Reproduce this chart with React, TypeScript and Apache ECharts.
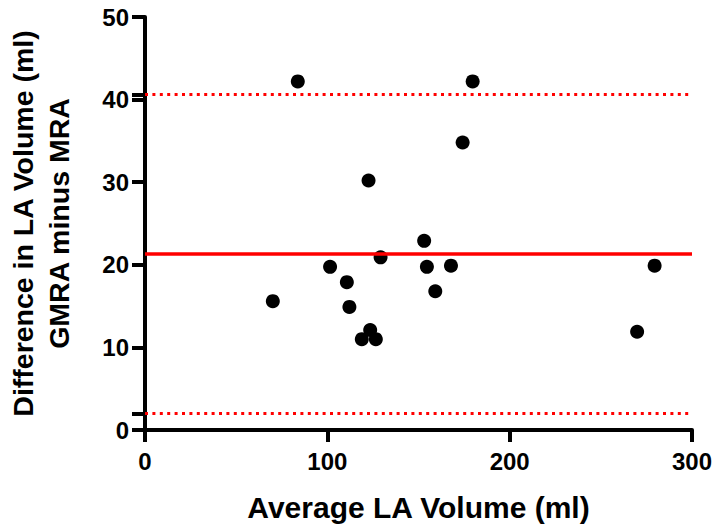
import React, { useEffect, useRef } from "react";
import * as echarts from "echarts";

const averageVolume = [83.8, 179.7, 174.2, 122.6, 153.1, 129.2, 101.5, 110.7, 112.1, 70.1, 154.6, 167.8, 159.2, 279.5, 269.9, 123.5, 118.9, 126.6];
const volumeDifference = [42.2, 42.2, 34.8, 30.2, 22.9, 20.9, 19.75, 17.9, 14.9, 15.6, 19.75, 19.9, 16.8, 19.9, 11.9, 12.1, 11.0, 11.0];
const meanDifference = 21.3;
const upperLimit = 40.6;
const lowerLimit = 2.0;
const xTicks = [0, 100, 200, 300];
const yTicks = [0, 10, 20, 30, 40, 50];

const FONT = "'Liberation Sans', Arial, sans-serif";

export default function App() {
  const ref = useRef<HTMLDivElement>(null);
  useEffect(() => {
    if (!ref.current) return;
    const chart = echarts.init(ref.current, null, { renderer: "svg" });
    const points = averageVolume.map((x, i) => [x, volumeDifference[i]]);
    chart.setOption({
      animation: false,
      backgroundColor: "#ffffff",
      grid: { left: 145, right: 23, top: 17, bottom: 94, containLabel: false, outerBoundsMode: "none" },
      xAxis: {
        type: "value",
        min: xTicks[0],
        max: xTicks[xTicks.length - 1],
        interval: 100,
        name: "Average LA Volume (ml)",
        nameLocation: "middle",
        nameGap: 62,
        nameTextStyle: { fontFamily: FONT, fontWeight: "bold", fontSize: 30, color: "#000" },
        axisLine: { show: true, lineStyle: { color: "#000", width: 4 } },
        axisTick: { show: true, length: 12, lineStyle: { color: "#000", width: 4 } },
        axisLabel: { fontFamily: FONT, fontWeight: "bold", fontSize: 24, color: "#000", margin: 19 },
        splitLine: { show: false },
      },
      yAxis: {
        type: "value",
        min: yTicks[0],
        max: yTicks[yTicks.length - 1],
        interval: 10,
        name: "Difference in LA Volume (ml)\nGMRA minus MRA",
        nameLocation: "middle",
        nameGap: 68,
        nameTextStyle: { fontFamily: FONT, fontWeight: "bold", fontSize: 28.5, color: "#000", lineHeight: 36 },
        axisLine: { show: true, onZero: false, lineStyle: { color: "#000", width: 4 } },
        axisTick: {
          show: true,
          length: 13,
          lineStyle: { color: "#000", width: 4 },
          customValues: [...yTicks, lowerLimit, upperLimit],
        },
        axisLabel: { fontFamily: FONT, fontWeight: "bold", fontSize: 24, color: "#000", margin: 16, customValues: yTicks },
        splitLine: { show: false },
      },
      series: [
        {
          type: "scatter",
          data: points,
          symbol: "circle",
          symbolSize: 14,
          itemStyle: { color: "#000", opacity: 1 },
          z: 3,
          markLine: {
            silent: true,
            symbol: "none",
            label: { show: false },
            data: [
              { yAxis: meanDifference, lineStyle: { color: "#ff0000", width: 3.5, type: "solid", opacity: 1 } },
              { yAxis: upperLimit, lineStyle: { color: "#ff0000", width: 3, type: [3, 4.4], opacity: 1 } },
              { yAxis: lowerLimit, lineStyle: { color: "#ff0000", width: 3, type: [3, 4.4], opacity: 1 } },
            ],
          },
        },
      ],
    });
    return () => chart.dispose();
  }, []);
  return <div ref={ref} style={{ width: 715, height: 524, position: "absolute", left: 0, top: 0 }} />;
}
